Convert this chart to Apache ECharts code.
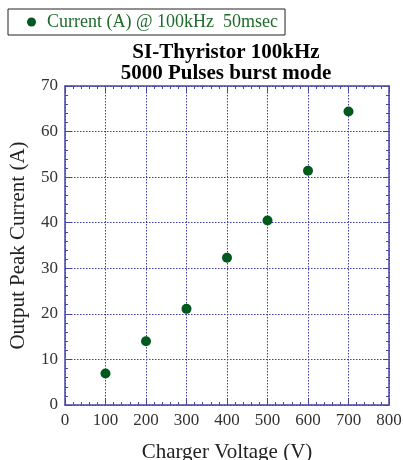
<!DOCTYPE html>
<html><head><meta charset="utf-8">
<script src="https://cdn.jsdelivr.net/npm/echarts@6/dist/echarts.min.js"></script>
<style>html,body{margin:0;padding:0;background:#fff}#c{width:403px;height:460px}</style>
</head><body><div id="c"></div>
<script>
const voltages = [100, 200, 300, 400, 500, 600, 700];
const currents = [6.9, 14.0, 21.1, 32.3, 40.5, 51.4, 64.4];
const seriesName = 'Current (A) @ 100kHz  50msec';
const font = '"Liberation Serif", "DejaVu Serif", serif';
const axisCol = '#4646a8';
const gridStyle = {show: true, lineStyle: {color: '#3a3aa8', type: [1.5, 1.5], width: 1}};
const chart = echarts.init(document.getElementById('c'));
const baseAxis = {
  axisLine: {show: true, onZero: false, lineStyle: {color: axisCol, width: 1.5}},
  axisTick: {show: true, inside: true, length: 6, lineStyle: {color: axisCol}},
  minorTick: {show: true, splitNumber: 5, length: 3, lineStyle: {color: axisCol}}
};
chart.setOption({
  animation: false,
  title: {
    text: 'SI-Thyristor 100kHz\n5000 Pulses burst mode',
    left: 221, top: 37, textAlign: 'center',
    textStyle: {fontFamily: font, fontWeight: 'bold', fontSize: 21, lineHeight: 21, color: '#000'}
  },
  legend: {
    left: 8, top: 9, orient: 'horizontal',
    borderColor: '#222', borderWidth: 1, padding: [4, 7, 4, 19],
    itemWidth: 9, itemHeight: 9, itemGap: 10,
    textStyle: {fontFamily: font, fontSize: 18, color: '#1e6b2a', padding: [0, 0, 0, 6]},
    data: [{name: seriesName, icon: 'circle'}]
  },
  grid: {left: 65, right: 14, top: 86, bottom: 55, outerBoundsMode: 'none', containLabel: false},
  xAxis: [
    Object.assign({}, baseAxis, {
      type: 'value', min: 0, max: 800, interval: 100,
      name: 'Charger Voltage (V)', nameLocation: 'middle', nameGap: 37,
      nameTextStyle: {fontFamily: font, fontSize: 21, color: '#222'},
      axisLabel: {fontFamily: font, fontSize: 17, color: '#333', margin: 7},
      splitLine: gridStyle
    }),
    Object.assign({}, baseAxis, {
      type: 'value', min: 0, max: 800, interval: 100, position: 'top',
      axisLabel: {show: false}, splitLine: {show: false}
    })
  ],
  yAxis: [
    Object.assign({}, baseAxis, {
      type: 'value', min: 0, max: 70, interval: 10,
      name: 'Output Peak Current (A)', nameLocation: 'middle', nameGap: 36,
      nameTextStyle: {fontFamily: font, fontSize: 21, color: '#222'},
      axisLabel: {fontFamily: font, fontSize: 17, color: '#333', margin: 7},
      splitLine: gridStyle
    }),
    Object.assign({}, baseAxis, {
      type: 'value', min: 0, max: 70, interval: 10, position: 'right',
      axisLabel: {show: false}, splitLine: {show: false}
    })
  ],
  series: [{
    name: seriesName, type: 'scatter', symbol: 'circle', symbolSize: 10,
    itemStyle: {color: '#005a1e', opacity: 1},
    data: voltages.map((v, i) => [v, currents[i]])
  }]
});
</script></body></html>
